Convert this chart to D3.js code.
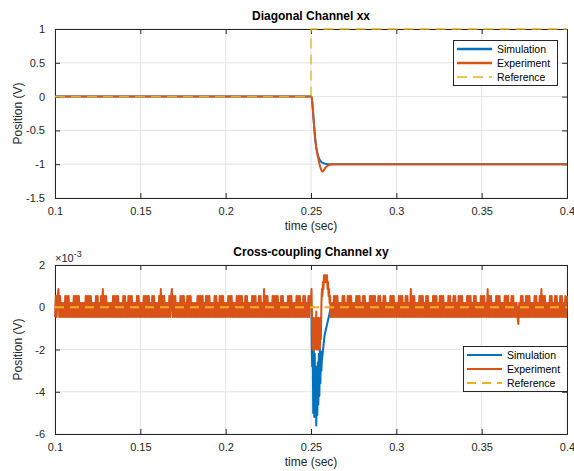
<!DOCTYPE html>
<html><head><meta charset="utf-8">
<script src="https://cdn.jsdelivr.net/npm/d3@7"></script>
<style>
html,body{margin:0;padding:0;background:#fff;}
svg{display:block;font-family:"Liberation Sans",Arial,Helvetica,sans-serif;}
</style></head>
<body>
<svg id="chart" width="574" height="471"></svg>
<script>
// ---------- DATA ----------
const xTicks = [0.1, 0.15, 0.2, 0.25, 0.3, 0.35, 0.4];
const xTickLabels = ["0.1", "0.15", "0.2", "0.25", "0.3", "0.35", "0.4"];
const yTicksTop = [1, 0.5, 0, -0.5, -1, -1.5];
const yTickLabelsTop = ["1", "0.5", "0", "-0.5", "-1", "-1.5"];
const yTicksBot = [2, 0, -2, -4, -6];
const yTickLabelsBot = ["2", "0", "-2", "-4", "-6"];
const seriesNames = ["Simulation", "Experiment", "Reference"];

// Diagonal channel xx
const simTopT = [0.1, 0.2503, 0.2508, 0.2515, 0.2523, 0.2530, 0.2536, 0.2542, 0.2550, 0.2560, 0.2573, 0.2590, 0.2603, 0.4];
const simTopV = [0, 0, -0.1, -0.33, -0.58, -0.74, -0.82, -0.88, -0.93, -0.965, -0.985, -0.997, -1.0, -1.0];
const expTopT = [0.1, 0.2503, 0.2508, 0.2515, 0.2523, 0.2530, 0.2536, 0.2542, 0.2550, 0.2558, 0.2566, 0.2575, 0.2585, 0.2600, 0.2620, 0.2648, 0.4];
const expTopV = [0, 0, -0.1, -0.33, -0.58, -0.74, -0.83, -0.91, -1.0, -1.07, -1.11, -1.09, -1.05, -1.02, -1.005, -1.0, -1.0];
const refTopT = [0.1, 0.25, 0.25, 0.4];
const refTopV = [0, 0, 1, 1];

// Cross-coupling channel xy (values in 1e-3 V), quantised experiment samples
const quantLevels = [-0.79, -0.46, -0.13, 0.2, 0.53, 0.86, 1.19, 1.52];
const noiseBeforeStart = 0.100, noiseAfterStart = 0.262, noiseStep = 0.0005;
const noiseBefore = [
 1,4,1,4,5,1,4,1,3,1,3,1,4,1,4,1,4,1,3,1,
 3,1,4,1,4,1,4,1,4,1,3,1,3,1,3,1,4,1,4,1,
 4,1,4,1,3,1,3,1,4,1,4,1,3,1,4,1,5,1,4,1,
 4,1,3,1,3,1,3,1,4,1,4,1,4,1,4,1,3,1,3,1,
 4,1,4,1,3,1,4,1,4,1,4,1,3,1,3,1,4,1,4,1,
 3,1,3,1,4,1,4,1,4,1,4,1,3,1,4,1,4,1,3,1,
 3,1,4,1,5,1,4,1,4,1,3,1,3,1,4,1,4,5,1,4,
 1,4,1,3,1,3,1,4,1,4,1,4,1,3,1,4,1,4,1,4,
 1,3,1,3,1,3,1,4,1,4,1,4,1,4,1,3,1,4,1,4,
 1,4,1,3,1,3,1,4,1,4,1,3,1,4,1,4,1,4,1,3,
 1,3,1,4,1,4,1,4,1,3,1,3,1,4,1,4,1,4,1,4,
 1,3,1,4,1,4,1,3,1,3,1,4,1,4,1,4,1,3,1,4,
 1,4,1,3,1,5,1,4,1,4,1,3,1,3,1,4,1,4,1,4,
 1,4,1,3,1,4,1,4,1,3,1,3,1,4,1,4,1,4,1,3,
 1,3,1,4,1,4,1,4,1,3,1,4,1,4,1,3,1,4,1,4];
const noiseAfter = [
 1,3,1,4,1,4,1,4,1,3,1,3,1,4,1,4,1,3,1,4,
 1,4,1,4,1,3,1,3,1,4,1,4,1,4,1,3,1,4,1,4,
 1,3,1,3,1,4,1,4,1,4,1,4,1,3,1,4,1,4,1,3,
 1,4,1,4,1,3,1,3,1,4,1,4,1,4,1,3,1,3,1,4,
 1,4,1,4,1,3,1,4,1,4,1,3,1,5,1,4,1,4,1,3,
 1,3,1,4,1,4,1,4,1,3,1,4,1,4,1,3,1,3,1,4,
 1,4,1,4,1,3,1,4,1,4,1,4,1,3,1,3,1,4,1,4,
 1,3,1,4,1,4,1,3,1,4,1,4,1,4,1,3,1,3,1,4,
 1,4,1,4,1,3,1,4,1,4,1,3,1,3,1,4,1,4,1,4,
 1,3,1,5,1,4,1,4,1,3,1,3,1,4,1,4,1,4,1,3,
 1,3,1,4,1,4,1,4,1,3,1,4,1,4,1,3,1,3,1,0,
 3,1,4,1,4,1,3,1,4,1,4,1,4,1,3,1,3,1,4,1,
 4,1,3,1,4,1,5,1,4,1,4,1,3,1,3,1,4,1,4,1,
 3,1,4,1,4,1,3,1,4,1,4,1,3,1,4,1,4];
const expEventT = [0.2500, 0.2503, 0.2506, 0.2510, 0.2513, 0.2516, 0.2519, 0.2522, 0.2525, 0.2528, 0.2531, 0.2534, 0.2537, 0.2540, 0.2543, 0.2546, 0.2549, 0.2552, 0.2555, 0.2558, 0.2561, 0.2564, 0.2567, 0.2570, 0.2573, 0.2576, 0.2579, 0.2582, 0.2585, 0.2588, 0.2591, 0.2594, 0.2597, 0.2600, 0.2603, 0.2606, 0.2609, 0.2612, 0.2615];
const expEventV = [0.2, 0.86, -0.46, -2.0, -0.5, -2.0, -0.8, -2.0, -0.5, -1.8, -0.2, -2.0, -0.8, -2.0, -0.5, -2.0, -1.0, -2.0, -0.5, -1.5, 0.2, 0.86, 0.53, 1.19, 0.86, 1.52, 1.19, 1.52, 1.19, 1.52, 1.19, 1.52, 0.86, 1.19, 0.53, 0.86, 0.2, 0.53, -0.46];
const simBotT = [0.1, 0.2503, 0.2504, 0.2507, 0.2510, 0.2513, 0.2516, 0.2519, 0.2522, 0.2525, 0.2528, 0.2531, 0.2534, 0.2537, 0.2540, 0.2543, 0.2546, 0.2549, 0.2552, 0.2555, 0.2558, 0.2561, 0.2563, 0.2572, 0.2580, 0.2600, 0.2617, 0.4];
const simBotV = [0, 0, -1.7, -2.8, -1.8, -5.0, -2.0, -5.2, -2.2, -5.0, -2.8, -5.6, -3.0, -5.1, -2.6, -4.6, -2.2, -4.2, -2.0, -3.6, -2.1, -3.0, -2.6, -1.9, -1.3, -0.6, 0, 0];
const refBotT = [0.1, 0.4];
const refBotV = [0, 0];

// ---------- LAYOUT ----------
const colors = {sim: "#0072BD", exp: "#D95319", ref: "#EDB120"};
const axisColor = "#262626";
const gridColor = "#e3e3e3";
const L = 55, R = 567;
const svg = d3.select("#chart");
const x = d3.scaleLinear().domain([0.1, 0.4]).range([L, R]);

function zip(T, V) { return T.map((t, i) => [t, V[i]]); }

function drawPanel(cfg) {
  const y = d3.scaleLinear().domain(cfg.yDomain).range([cfg.bottom, cfg.top]);
  const g = svg.append("g");
  g.append("g").selectAll("line").data(xTicks).join("line")
    .attr("x1", d => x(d)).attr("x2", d => x(d))
    .attr("y1", cfg.top).attr("y2", cfg.bottom)
    .attr("stroke", gridColor).attr("stroke-width", 1);
  g.append("g").selectAll("line").data(cfg.yTicks).join("line")
    .attr("x1", L).attr("x2", R)
    .attr("y1", d => y(d)).attr("y2", d => y(d))
    .attr("stroke", gridColor).attr("stroke-width", 1);

  const axB = d3.axisBottom(x).tickValues(xTicks).tickSize(-5).tickPadding(9)
    .tickFormat((d, i) => xTickLabels[i]);
  const axT = d3.axisTop(x).tickValues(xTicks).tickSize(-5).tickFormat("");
  const axLft = d3.axisLeft(y).tickValues(cfg.yTicks).tickSize(-5).tickPadding(10)
    .tickFormat((d, i) => cfg.yLabels[i]);
  const axRt = d3.axisRight(y).tickValues(cfg.yTicks).tickSize(-5).tickFormat("");
  function style(sel) {
    sel.selectAll("path").attr("stroke", axisColor).attr("stroke-width", 1);
    sel.selectAll("line").attr("stroke", axisColor).attr("stroke-width", 1);
    sel.selectAll("text").attr("fill", axisColor).attr("font-size", 11)
      .attr("font-family", "Liberation Sans, Arial, sans-serif");
  }
  g.append("g").attr("transform", `translate(0,${cfg.bottom})`).call(axB).call(style);
  g.append("g").attr("transform", `translate(0,${cfg.top})`).call(axT).call(style);
  g.append("g").attr("transform", `translate(${L},0)`).call(axLft).call(style);
  g.append("g").attr("transform", `translate(${R},0)`).call(axRt).call(style);

  const line = d3.line().x(d => x(d[0])).y(d => y(d[1]));
  cfg.series.forEach(s => {
    g.append("path").datum(s.data)
      .attr("fill", "none").attr("stroke", s.color)
      .attr("stroke-width", s.width)
      .attr("stroke-dasharray", s.dash || null)
      .attr("stroke-linejoin", "round")
      .attr("d", s.curve ? line.curve(s.curve)(s.data) : line.curve(d3.curveLinear)(s.data));
  });

  svg.append("text").attr("x", (L + R) / 2).attr("y", cfg.top - 9)
    .attr("text-anchor", "middle").attr("font-weight", "bold").attr("font-size", 12)
    .attr("fill", "#000").text(cfg.title);
  svg.append("text").attr("x", (L + R) / 2).attr("y", cfg.bottom + 32)
    .attr("text-anchor", "middle").attr("font-size", 12).attr("fill", axisColor)
    .text("time (sec)");
  svg.append("text")
    .attr("transform", `translate(22,${(cfg.top + cfg.bottom) / 2}) rotate(-90)`)
    .attr("text-anchor", "middle").attr("font-size", 12).attr("fill", axisColor)
    .text("Position (V)");

  const lg = svg.append("g").attr("transform", `translate(${cfg.legend.x},${cfg.legend.y})`);
  lg.append("rect").attr("x", 0.5).attr("y", 0.5).attr("width", cfg.legend.w).attr("height", 45)
    .attr("fill", "#fff").attr("stroke", axisColor).attr("stroke-width", 1);
  cfg.series.forEach((s, i) => {
    const yy = 9 + i * 14;
    lg.append("line").attr("x1", 4).attr("x2", 39).attr("y1", yy).attr("y2", yy)
      .attr("stroke", s.color).attr("stroke-width", s.legendWidth || s.width)
      .attr("stroke-dasharray", s.dash || null);
    lg.append("text").attr("x", 44).attr("y", yy + 3.5).attr("font-size", 10.5)
      .attr("fill", "#000").text(seriesNames[i]);
  });
  return y;
}

drawPanel({
  top: 29, bottom: 198, yDomain: [-1.5, 1],
  yTicks: yTicksTop, yLabels: yTickLabelsTop,
  title: "Diagonal Channel xx",
  legend: {x: 453, y: 40, w: 104},
  series: [
    {data: zip(simTopT, simTopV), color: colors.sim, width: 2, curve: d3.curveMonotoneX, legendWidth: 2.5},
    {data: zip(expTopT, expTopV), color: colors.exp, width: 2, curve: d3.curveMonotoneX, legendWidth: 2.5},
    {data: zip(refTopT, refTopV), color: colors.ref, width: 1.3, dash: "10,6"}
  ]
});

const expBot = [];
noiseBefore.forEach((c, i) => expBot.push([noiseBeforeStart + i * noiseStep, quantLevels[c]]));
expEventT.forEach((t, i) => expBot.push([t, expEventV[i]]));
noiseAfter.forEach((c, i) => expBot.push([noiseAfterStart + i * noiseStep, quantLevels[c]]));

drawPanel({
  top: 265, bottom: 434, yDomain: [-6, 2],
  yTicks: yTicksBot, yLabels: yTickLabelsBot,
  title: "Cross-coupling Channel xy",
  legend: {x: 463, y: 346, w: 104},
  series: [
    {data: zip(simBotT, simBotV), color: colors.sim, width: 2},
    {data: expBot, color: colors.exp, width: 2},
    {data: zip(refBotT, refBotV), color: colors.ref, width: 2.2, dash: "9,6"}
  ]
});

const ex = svg.append("text").attr("x", 55).attr("y", 262).attr("font-size", 11).attr("fill", axisColor);
ex.append("tspan").text("\u00d710");
ex.append("tspan").attr("dy", -5).attr("font-size", 9).text("-3");
</script>
</body></html>
